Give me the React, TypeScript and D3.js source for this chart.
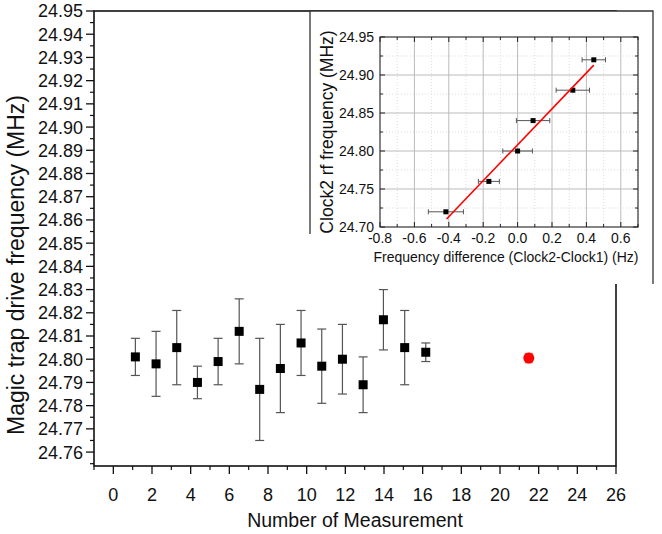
import React from "react";
import * as d3 from "d3";

const measurement = [1.14, 2.21, 3.28, 4.35, 5.42, 6.51, 7.57, 8.64, 9.71, 10.78, 11.85, 12.92, 13.97, 15.07, 16.16];
const driveFreq = [24.801, 24.798, 24.805, 24.79, 24.799, 24.812, 24.787, 24.796, 24.807, 24.797, 24.8, 24.789, 24.817, 24.805, 24.803];
const driveErr = [0.008, 0.014, 0.016, 0.007, 0.01, 0.014, 0.022, 0.019, 0.014, 0.016, 0.015, 0.012, 0.013, 0.016, 0.004];
const meanX = [21.49];
const meanFreq = [24.8005];
const meanErr = [0.002];

const mainXTicks = [0, 2, 4, 6, 8, 10, 12, 14, 16, 18, 20, 22, 24, 26];
const mainYTicks = [24.76, 24.77, 24.78, 24.79, 24.8, 24.81, 24.82, 24.83, 24.84, 24.85, 24.86, 24.87, 24.88, 24.89, 24.9, 24.91, 24.92, 24.93, 24.94, 24.95];

// inset: clock2 rf frequency vs frequency difference
const freqDiff = [-0.417, -0.167, 0.0, 0.09, 0.321, 0.443];
const freqDiffErr = [0.102, 0.061, 0.086, 0.097, 0.097, 0.068];
const clockFreq = [24.72, 24.76, 24.8, 24.84, 24.88, 24.92];
const fitX = [-0.413, 0.443];
const fitY = [24.7105, 24.913];

const insetXTicks = [-0.8, -0.6, -0.4, -0.2, 0.0, 0.2, 0.4, 0.6];
const insetYTicks = [24.7, 24.75, 24.8, 24.85, 24.9, 24.95];

const W = 662;
const H = 534;
const FONT = "'Liberation Sans', Arial, Helvetica, sans-serif";

export default function App() {
  // main layout
  const m = { left: 94, right: 616, top: 11, bottom: 466 };
  const x = d3.scaleLinear().domain([-1, 26]).range([m.left, m.right]);
  const y = d3.scaleLinear().domain([24.754, 24.95]).range([m.bottom, m.top]);
  const xMinor = d3.range(-1, 26, 1).filter((v) => v % 2 !== 0);
  const yMinor = d3.range(24.755, 24.95, 0.01);

  // inset layout
  const box = { left: 310, right: 653, top: 11, bottom: 284 };
  const s = { left: 380, right: 638, top: 37, bottom: 227 };
  const ix = d3.scaleLinear().domain([-0.8, 0.7]).range([s.left, s.right]);
  const iy = d3.scaleLinear().domain([24.7, 24.95]).range([s.bottom, s.top]);
  const ixMinor = d3.range(-0.7, 0.71, 0.2);
  const iyMinor = d3.range(24.725, 24.95, 0.05);
  const fitLine = d3
    .line<number>()
    .x((d) => ix(d))
    .y((_, i) => iy(fitY[i]));

  const errColor = "#555";

  return (
    <svg
      width={W}
      height={H}
      style={{ position: "absolute", left: 0, top: 0, background: "#fff" }}
      fontFamily={FONT}
    >
      <rect width={W} height={H} fill="#fff" />

      {/* main frame */}
      <rect
        x={m.left}
        y={m.top}
        width={m.right - m.left}
        height={m.bottom - m.top}
        fill="none"
        stroke="#111"
        strokeWidth={1.6}
      />

      {/* main y ticks */}
      {mainYTicks.map((t) => (
        <g key={"my" + t}>
          <line x1={m.left - 8} x2={m.left} y1={y(t)} y2={y(t)} stroke="#111" strokeWidth={1.3} />
          <text x={m.left - 11} y={y(t)} dy="0.36em" textAnchor="end" fontSize={18} fill="#111">
            {t.toFixed(2)}
          </text>
        </g>
      ))}
      {yMinor.map((t) => (
        <line key={"mym" + t} x1={m.left - 4} x2={m.left} y1={y(t)} y2={y(t)} stroke="#111" strokeWidth={1.2} />
      ))}

      {/* main x ticks */}
      {mainXTicks.map((t) => (
        <g key={"mx" + t}>
          <line x1={x(t)} x2={x(t)} y1={m.bottom} y2={m.bottom + 8} stroke="#111" strokeWidth={1.3} />
          <text x={x(t)} y={m.bottom + 35} textAnchor="middle" fontSize={18} fill="#111">
            {t}
          </text>
        </g>
      ))}
      {xMinor.map((t) => (
        <line key={"mxm" + t} x1={x(t)} x2={x(t)} y1={m.bottom} y2={m.bottom + 4} stroke="#111" strokeWidth={1.2} />
      ))}

      {/* axis titles */}
      <text x={(m.left + m.right) / 2} y={527} textAnchor="middle" fontSize={19.5} fill="#111">
        Number of Measurement
      </text>
      <text
        transform={`translate(24,265) rotate(-90)`}
        textAnchor="middle"
        fontSize={23}
        fill="#111"
      >
        Magic trap drive frequency (MHz)
      </text>

      {/* inset panel: white background, border on top, left and right */}
      <rect x={box.left} y={box.top} width={box.right - box.left} height={box.bottom - box.top} fill="#fff" />
      <path
        d={`M${box.left},${box.bottom - 50}V${box.top}H${box.right}V${box.bottom}`}
        fill="none"
        stroke="#333"
        strokeWidth={1.3}
      />

      {/* measurement points */}
      {measurement.map((v, i) => {
        const cx = x(v);
        const top = y(driveFreq[i] + driveErr[i]);
        const bot = y(driveFreq[i] - driveErr[i]);
        return (
          <g key={"pt" + i}>
            <line x1={cx} x2={cx} y1={top} y2={bot} stroke={errColor} strokeWidth={1.2} />
            <line x1={cx - 4.5} x2={cx + 4.5} y1={top} y2={top} stroke={errColor} strokeWidth={1.2} />
            <line x1={cx - 4.5} x2={cx + 4.5} y1={bot} y2={bot} stroke={errColor} strokeWidth={1.2} />
            <rect x={cx - 4.5} y={y(driveFreq[i]) - 4.5} width={9} height={9} fill="#000" />
          </g>
        );
      })}
      {meanX.map((v, i) => {
        const cx = x(v);
        const top = y(meanFreq[i] + meanErr[i]);
        const bot = y(meanFreq[i] - meanErr[i]);
        return (
          <g key={"mean" + i}>
            <line x1={cx} x2={cx} y1={top} y2={bot} stroke="#f66" strokeWidth={1.2} />
            <line x1={cx - 4} x2={cx + 4} y1={top} y2={top} stroke="#f66" strokeWidth={1.2} />
            <line x1={cx - 4} x2={cx + 4} y1={bot} y2={bot} stroke="#f66" strokeWidth={1.2} />
            <circle cx={cx} cy={y(meanFreq[i])} r={5.5} fill="#f00" />
          </g>
        );
      })}

      {/* inset grid */}
      {ixMinor.map((t) => (
        <line key={"igx" + t} x1={ix(t)} x2={ix(t)} y1={s.top} y2={s.bottom} stroke="#ddd" strokeDasharray="1,2" />
      ))}
      {iyMinor.map((t) => (
        <line key={"igy" + t} x1={s.left} x2={s.right} y1={iy(t)} y2={iy(t)} stroke="#ddd" strokeDasharray="1,2" />
      ))}
      {insetXTicks.slice(1).map((t) => (
        <line key={"iGx" + t} x1={ix(t)} x2={ix(t)} y1={s.top} y2={s.bottom} stroke="#bbb" strokeWidth={1} />
      ))}
      {insetYTicks.slice(1, -1).map((t) => (
        <line key={"iGy" + t} x1={s.left} x2={s.right} y1={iy(t)} y2={iy(t)} stroke="#bbb" strokeWidth={1} />
      ))}

      {/* inset frame and ticks (inward, all sides) */}
      <rect
        x={s.left}
        y={s.top}
        width={s.right - s.left}
        height={s.bottom - s.top}
        fill="none"
        stroke="#222"
        strokeWidth={1.1}
      />
      {insetXTicks.map((t) => (
        <g key={"ixt" + t}>
          <line x1={ix(t)} x2={ix(t)} y1={s.bottom} y2={s.bottom - 5} stroke="#222" />
          <line x1={ix(t)} x2={ix(t)} y1={s.top} y2={s.top + 5} stroke="#222" />
          <text x={ix(t)} y={s.bottom + 16} textAnchor="middle" fontSize={14} fill="#111">
            {t.toFixed(1)}
          </text>
        </g>
      ))}
      {ixMinor.map((t) => (
        <g key={"ixm" + t}>
          <line x1={ix(t)} x2={ix(t)} y1={s.bottom} y2={s.bottom - 3} stroke="#222" />
          <line x1={ix(t)} x2={ix(t)} y1={s.top} y2={s.top + 3} stroke="#222" />
        </g>
      ))}
      {insetYTicks.map((t) => (
        <g key={"iyt" + t}>
          <line x1={s.left} x2={s.left + 5} y1={iy(t)} y2={iy(t)} stroke="#222" />
          <line x1={s.right} x2={s.right - 5} y1={iy(t)} y2={iy(t)} stroke="#222" />
          <text x={s.left - 6} y={iy(t)} dy="0.36em" textAnchor="end" fontSize={14} fill="#111">
            {t.toFixed(2)}
          </text>
        </g>
      ))}
      {iyMinor.map((t) => (
        <g key={"iym" + t}>
          <line x1={s.left} x2={s.left + 3} y1={iy(t)} y2={iy(t)} stroke="#222" />
          <line x1={s.right} x2={s.right - 3} y1={iy(t)} y2={iy(t)} stroke="#222" />
        </g>
      ))}

      {/* inset data */}
      {freqDiff.map((v, i) => {
        const cy = iy(clockFreq[i]);
        const l = ix(v - freqDiffErr[i]);
        const r = ix(v + freqDiffErr[i]);
        return (
          <g key={"ipt" + i}>
            <line x1={l} x2={r} y1={cy} y2={cy} stroke={errColor} strokeWidth={1} />
            <line x1={l} x2={l} y1={cy - 2.5} y2={cy + 2.5} stroke={errColor} strokeWidth={1} />
            <line x1={r} x2={r} y1={cy - 2.5} y2={cy + 2.5} stroke={errColor} strokeWidth={1} />
            <rect x={ix(v) - 2.5} y={cy - 2.5} width={5} height={5} fill="#000" />
          </g>
        );
      })}
      <path d={fitLine(fitX) ?? ""} fill="none" stroke="#f00" strokeWidth={1.6} />

      {/* inset titles */}
      <text x={(s.left + s.right) / 2 - 3} y={262} textAnchor="middle" fontSize={14} fill="#111">
        Frequency difference (Clock2-Clock1) (Hz)
      </text>
      <text
        transform={`translate(333,${(s.top + s.bottom) / 2}) rotate(-90)`}
        textAnchor="middle"
        fontSize={17.5}
        fill="#111"
      >
        Clock2 rf frequency (MHz)
      </text>
    </svg>
  );
}
